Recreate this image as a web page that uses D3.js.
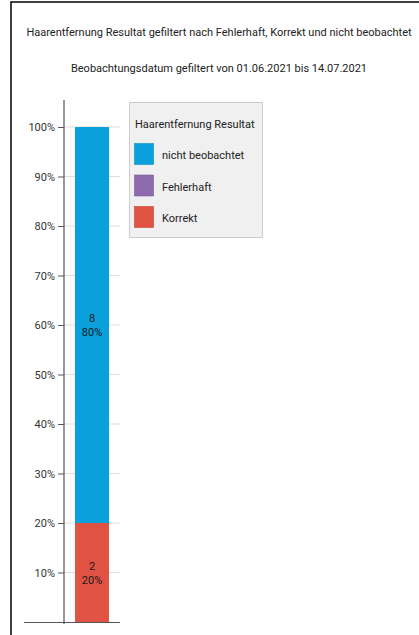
<!DOCTYPE html>
<html><head><meta charset="utf-8">
<script src="https://cdn.jsdelivr.net/npm/d3@7"></script>
<style>
html,body{margin:0;padding:0;background:#fff;}
svg{display:block;font-family:Roboto, "Noto Sans", sans-serif;}
</style></head>
<body>
<svg id="c" width="419" height="635"></svg>
<script>
const titleLines = ["Haarentfernung Resultat gefiltert nach Fehlerhaft, Korrekt und nicht beobachtet",
                    "Beobachtungsdatum gefiltert von 01.06.2021 bis 14.07.2021"];
const categories = [""];
const seriesNames = ["Korrekt", "Fehlerhaft", "nicht beobachtet"];
const seriesCounts = [[2], [0], [8]];
const seriesColors = ["#E05243", "#8E6BAE", "#0AA0DC"];
const legendTitle = "Haarentfernung Resultat";
const legendOrder = ["nicht beobachtet", "Fehlerhaft", "Korrekt"];
const yTicks = [0.1,0.2,0.3,0.4,0.5,0.6,0.7,0.8,0.9,1.0];

const svg = d3.select("#c");
// frame
svg.append("path").attr("d","M11,640 V2 H430").attr("fill","none").attr("stroke","#000").attr("stroke-width",1.5);

// titles
svg.selectAll("text.title").data(titleLines).join("text")
  .attr("x", 219).attr("y",(d,i)=>36+i*36)
  .attr("text-anchor","middle").attr("font-size",11).attr("fill","#222").text(d=>d);

const y = d3.scaleLinear().domain([0,1]).range([622,127]);
const x = d3.scaleBand().domain(categories).range([64,120]).padding(0.245);

// gridlines
svg.append("g").selectAll("line").data(yTicks).join("line")
  .attr("x1",64).attr("x2",120).attr("y1",d=>y(d)).attr("y2",d=>y(d))
  .attr("stroke","#ddd").attr("stroke-width",1);

// stacked data
const totals = categories.map((c,i)=>d3.sum(seriesCounts,s=>s[i]));
const rows = categories.map((c,i)=>{const o={cat:c}; seriesNames.forEach((n,j)=>o[n]=seriesCounts[j][i]/totals[i]); return o;});
const stack = d3.stack().keys(seriesNames)(rows);
const color = d3.scaleOrdinal().domain(seriesNames).range(seriesColors);

const g = svg.append("g");
stack.forEach((layer,j)=>{
  layer.forEach((d,i)=>{
    if (d[1]-d[0] <= 0) return;
    g.append("rect").attr("x",x(d.data.cat)).attr("width",x.bandwidth())
      .attr("y",y(d[1])).attr("height",y(d[0])-y(d[1])).attr("fill",color(layer.key));
    const cy = (y(d[0])+y(d[1]))/2;
    const cx = x(d.data.cat)+x.bandwidth()/2;
    const t = g.append("text").attr("x",cx).attr("text-anchor","middle").attr("font-size",11).attr("fill","#1a1a1a");
    t.append("tspan").attr("x",cx).attr("y",cy-3).text(seriesCounts[j][i]);
    t.append("tspan").attr("x",cx).attr("y",cy+11).text(Math.round((d[1]-d[0])*100)+"%");
  });
});

// y axis
const yAxis = d3.axisLeft(y).tickValues(yTicks).tickFormat(d3.format(".0%")).tickSize(6).tickSizeOuter(0);
const ya = svg.append("g").attr("transform","translate(64,0)").call(yAxis);
ya.select(".domain").remove();
ya.selectAll("line").attr("stroke","#555");
ya.selectAll("text").attr("font-size",11).attr("fill","#333").attr("font-family","Roboto");
svg.append("line").attr("x1",64).attr("x2",64).attr("y1",100).attr("y2",624).attr("stroke","#555").attr("stroke-width",1.2);
// x baseline
svg.append("line").attr("x1",24).attr("x2",120).attr("y1",622.5).attr("y2",622.5).attr("stroke","#555").attr("stroke-width",1.2);

// legend
const lg = svg.append("g");
lg.append("rect").attr("x",129.5).attr("y",102.5).attr("width",133).attr("height",135)
  .attr("fill","#f0f0f0").attr("stroke","#ccc");
lg.append("text").attr("x",135).attr("y",128).attr("font-size",11).attr("fill","#222").text(legendTitle);
legendOrder.forEach((n,i)=>{
  lg.append("rect").attr("x",134.5).attr("y",143.5+i*31.5).attr("width",19).attr("height",21)
    .attr("fill",color(n)).attr("stroke",d3.color(color(n)).darker(0.4)).attr("stroke-width",0.6);
  lg.append("text").attr("x",162).attr("y",159+i*31.5).attr("font-size",11).attr("fill","#222").text(n);
});
</script>
</body></html>
